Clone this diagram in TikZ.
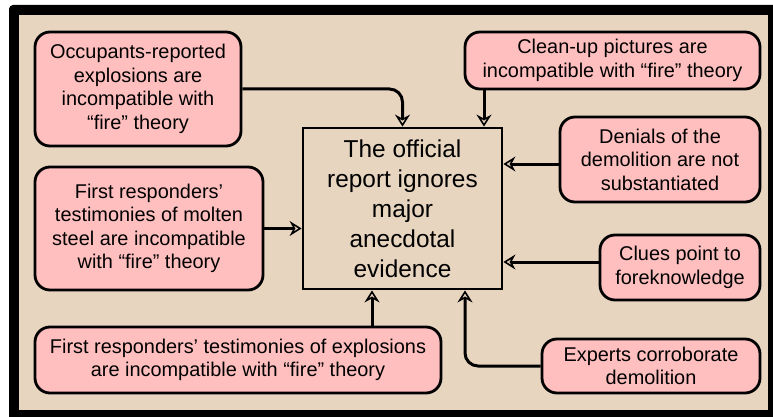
\documentclass[tikz,border=0pt]{standalone}
\usepackage{fontspec}
\setmainfont{Liberation Sans}
\usetikzlibrary{arrows.meta}
\definecolor{bgbeige}{RGB}{232,213,192}
\definecolor{boxpink}{RGB}{255,191,191}
\begin{document}
\begin{tikzpicture}[x=1pt,y=-1pt,
  claim/.style={draw=black,line width=2.8pt,fill=boxpink,rounded corners=15pt,
    align=center,inner sep=0pt,font=\fontsize{19.9}{23.5}\selectfont},
  mainbox/.style={draw=black,line width=2.8pt,align=center,inner sep=0pt,
    font=\fontsize{24.4}{30}\selectfont},
  arr/.style={line width=3pt,-{Stealth[open,length=12pt,width=15pt,inset=4pt,line width=1.6pt]}}]
\useasboundingbox (0,0) rectangle (773,417);
\fill[white] (0,0) rectangle (773,417);
\fill[black,rounded corners=4pt] (9,5) rectangle (790,430);
\fill[bgbeige] (19,15) rectangle (768,410);

\node[mainbox,minimum width=199pt,minimum height=161pt] (c) at (402.5,208.5)
  {The official\\report ignores\\major\\anecdotal\\evidence};

\node[claim,minimum width=206pt,minimum height=114pt] (n1) at (138,89)
  {Occupants-reported\\explosions are\\incompatible with\\“fire” theory};
\node[claim,minimum width=295pt,minimum height=57pt] (n2) at (612.5,60.5)
  {Clean-up pictures are\\incompatible with “fire” theory};
\node[claim,minimum width=200pt,minimum height=85pt] (n3) at (660,159.5)
  {Denials of the\\demolition are not\\substantiated};
\node[claim,minimum width=228pt,minimum height=123pt] (n4) at (149,228.5)
  {First responders’\\testimonies of molten\\steel are incompatible\\with “fire” theory};
\node[claim,minimum width=160pt,minimum height=65pt] (n5) at (680,267.5)
  {Clues point to\\foreknowledge};
\node[claim,minimum width=406pt,minimum height=66pt] (n6) at (238,360)
  {First responders’ testimonies of explosions\\are incompatible with “fire” theory};
\node[claim,minimum width=218pt,minimum height=54pt] (n7) at (651,366)
  {Experts corroborate\\demolition};

\coordinate (t2) at ([xshift=81.5pt]c.north);
\coordinate (s3) at ([yshift=-4.5pt]n3.west);
\coordinate (s5) at ([yshift=5.5pt]n5.west);
\coordinate (t6) at ([xshift=-30.5pt]c.south);
\coordinate (t7) at ([xshift=62.5pt]c.south);

\draw[arr,rounded corners=13pt] (n1.east) -| (c.north);
\draw[arr] (t2 |- n2.south) -- (t2);
\draw[arr] (s3) -- (c.east |- s3);
\draw[arr] (n4.east) -- (c.west |- n4.east);
\draw[arr] (s5) -- (c.east |- s5);
\draw[arr] (t6 |- n6.north) -- (t6);
\draw[arr,rounded corners=13pt] (n7.west) -| (t7);
\end{tikzpicture}
\end{document}
